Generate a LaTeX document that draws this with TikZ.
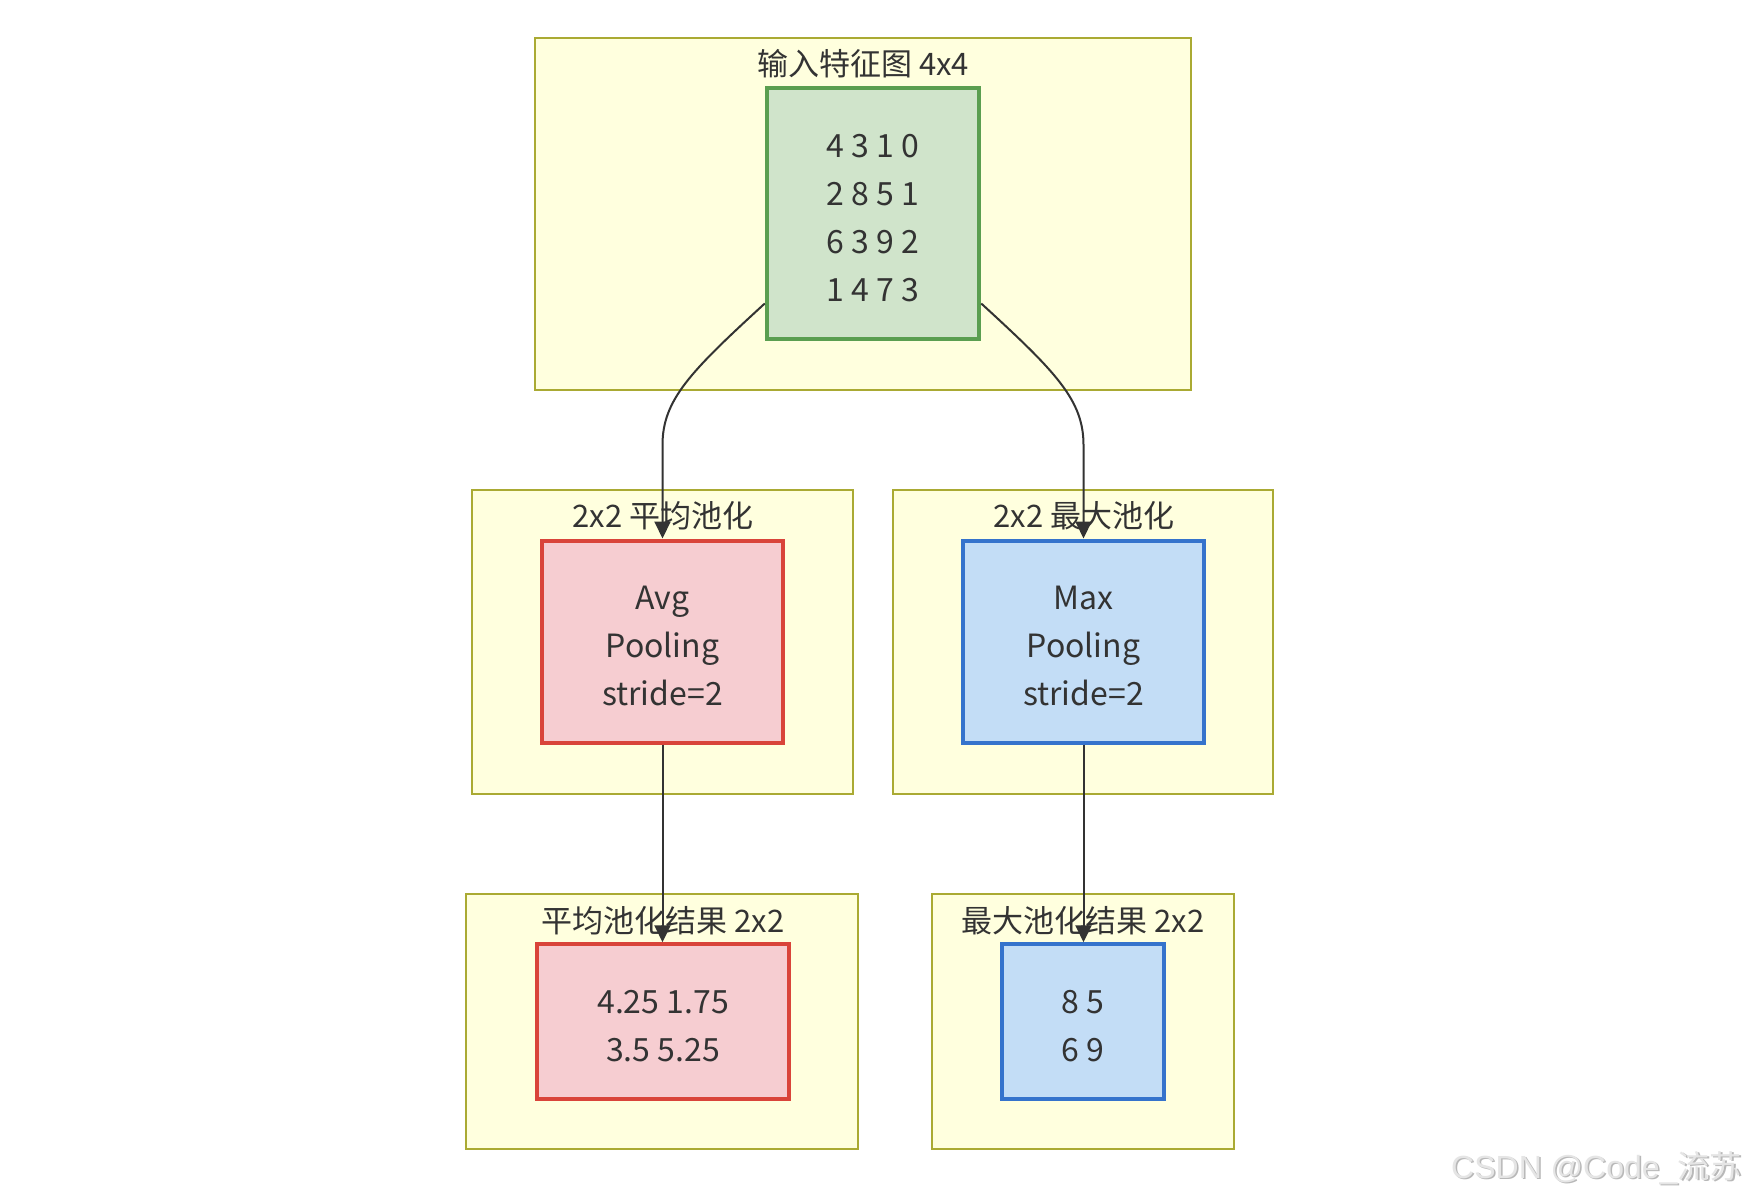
\documentclass[tikz,border=0pt]{standalone}
\usepackage{fontspec}
\setmainfont{Noto Sans CJK SC}
\newfontfamily\wmfont{Liberation Sans}
\newfontfamily\wmcjk{Noto Sans CJK SC}
\usetikzlibrary{arrows.meta,calc}
\newcommand\boxstrut{\rule{0pt}{32pt}}
\definecolor{clfill}{HTML}{FFFFDE}
\definecolor{cldraw}{HTML}{AAAA33}
\definecolor{txt}{HTML}{333333}
\definecolor{gfill}{HTML}{D0E4CB}
\definecolor{gdraw}{HTML}{5A9E50}
\definecolor{rfill}{HTML}{F6CDD1}
\definecolor{rdraw}{HTML}{D9443A}
\definecolor{bfill}{HTML}{C3DDF6}
\definecolor{bdraw}{HTML}{3573CC}
\tikzset{
  cluster/.style={draw=cldraw, fill=clfill, line width=2pt, inner sep=0pt},
  ctitle/.style={text=txt, font=\fontsize{31}{40}\selectfont, inner sep=0pt},
  box/.style={line width=4pt, inner sep=0pt, text=txt, align=center,
    font=\fontsize{32}{48}\selectfont},
  gbox/.style={box, draw=gdraw, fill=gfill},
  rbox/.style={box, draw=rdraw, fill=rfill},
  bbox/.style={box, draw=bdraw, fill=bfill},
  edge/.style={draw=txt, line width=2pt, -{Triangle[length=17pt,width=16pt]}},
}
\begin{document}
\begin{tikzpicture}[x=1pt,y=-1pt]
\useasboundingbox (0,0) rectangle (1750,1199);
\fill[white] (0,0) rectangle (1750,1199);

% clusters
\node[cluster, minimum width=656pt, minimum height=352pt] (cin) at (863,214) {};
\node[cluster, minimum width=381pt, minimum height=304pt] (cavg) at (662.5,642) {};
\node[cluster, minimum width=380pt, minimum height=304pt] (cmax) at (1083,642) {};
\node[cluster, minimum width=392pt, minimum height=255pt] (cavgr) at (662,1021.5) {};
\node[cluster, minimum width=302pt, minimum height=255pt] (cmaxr) at (1083,1021.5) {};

% titles
\node[ctitle] (tin) at (863,64) {输入特征图 4x4};
\node[ctitle] (tavg) at (663,516) {2x2 平均池化};
\node[ctitle] (tmax) at (1084,516) {2x2 最大池化};
\node[ctitle] (tavgr) at (663,921) {平均池化结果 2x2};
\node[ctitle] (tmaxr) at (1083,921) {最大池化结果 2x2};

% nodes
\node[gbox, minimum width=212.5pt, minimum height=251.5pt] (in) at (873,213.5)
  {\boxstrut 4 3 1 0\\2 8 5 1\\6 3 9 2\\1 4 7 3};
\node[rbox, minimum width=240.5pt, minimum height=202pt] (avg) at (662.5,641.5)
  {\boxstrut Avg\\Pooling\\stride=2};
\node[bbox, minimum width=240.5pt, minimum height=202pt] (max) at (1083.5,641.5)
  {\boxstrut Max\\Pooling\\stride=2};
\node[rbox, minimum width=252.5pt, minimum height=154.5pt] (avgr) at (663,1021.5)
  {\boxstrut 4.25 1.75\\3.5 5.25};
\node[bbox, minimum width=161.5pt, minimum height=154.5pt] (maxr) at (1083,1021.5)
  {\boxstrut 8 5\\6 9};

% edges
\draw[edge] ([yshift=-90pt]in.west) .. controls (690,372) and (662.5,400) .. (662.5,445) -- (avg.north);
\draw[edge] ([yshift=-90pt]in.east) .. controls (1056,372) and (1083.5,400) .. (1083.5,445) -- (max.north);
\draw[edge] (avg.south) -- (avgr.north -| avg.south);
\draw[edge] (max.south) -- (maxr.north -| max.south);

% watermark
\node[anchor=west, inner sep=0pt, text=black!28, font=\fontsize{32}{36}\selectfont] (wms) at (1452.5,1169.5)
  {\wmfont CSDN @Code\_\wmcjk 流苏};
\node[anchor=west, inner sep=0pt, text=black!10, font=\fontsize{32}{36}\selectfont] (wm) at (1451,1168)
  {\wmfont CSDN @Code\_\wmcjk 流苏};
\end{tikzpicture}
\end{document}
